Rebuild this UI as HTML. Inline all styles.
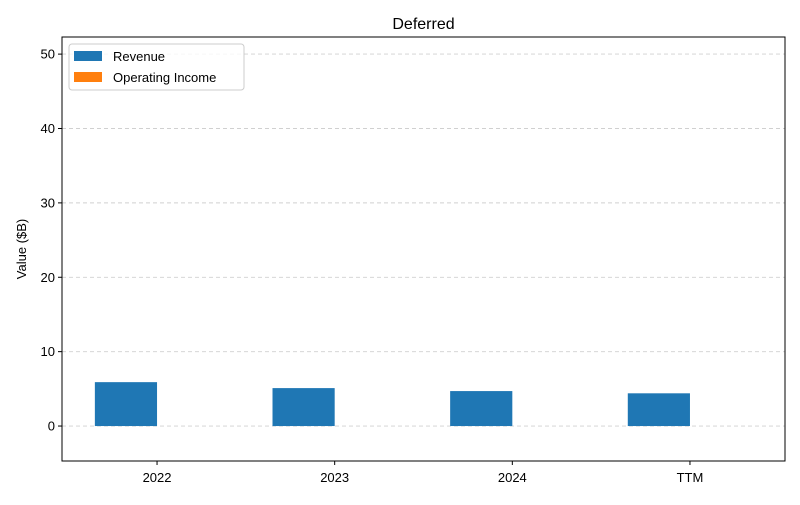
<!DOCTYPE html>
<html><head><meta charset="utf-8"><style>
body{margin:0;background:#fff;}
svg{font-family:"Liberation Sans","DejaVu Sans",sans-serif;}
</style></head><body>
<svg id="chart" width="800" height="500"></svg>
<script>
const categories=["2022","2023","2024","TTM"];
const revenue=[5.9,5.1,4.7,4.4];
const opIncome=[0,0,0,0];
const yTicks=[0,10,20,30,40,50];
const L=62,R=785,T=37,B=461;
const xMin=-0.535,xMax=3.535,yMin=-4.7,yMax=52.3;
const sx=v=>L+(v-xMin)/(xMax-xMin)*(R-L);
const sy=v=>B-(v-yMin)/(yMax-yMin)*(B-T);
const NS="http://www.w3.org/2000/svg";
const svg=document.getElementById('chart');
function mk(tag,attrs,parent){const e=document.createElementNS(NS,tag);for(const k in attrs)e.setAttribute(k,attrs[k]);(parent||svg).appendChild(e);return e;}
yTicks.forEach(v=>{
  const g=mk('line',{x1:L,x2:R,y1:sy(v),y2:sy(v),stroke:'#d0d0d0','stroke-dasharray':'4,3','stroke-width':0.9});
  
  
  const t=mk('line',{x1:L-4,x2:L,y1:sy(v),y2:sy(v),stroke:'#000'});
  
  
  const tx=mk('text',{x:L-7,y:sy(v)+4.5,'text-anchor':'end','font-size':13});
  tx.textContent=v;
  
  
});
const w=0.35;
categories.forEach((c,i)=>{
  const r=mk('rect',{x:sx(i-w),y:sy(Math.max(revenue[i],0)),width:sx(i)-sx(i-w),height:Math.abs(sy(revenue[i])-sy(0)),fill:'#1f77b4'});
  
  
  const o=mk('rect',{x:sx(i),y:sy(Math.max(opIncome[i],0)),width:sx(i+w)-sx(i),height:Math.abs(sy(opIncome[i])-sy(0)),fill:'#ff7f0e'});
  
  
  const t=mk('line',{x1:sx(i),x2:sx(i),y1:B,y2:B+4,stroke:'#000'});
  
  
  const tx=mk('text',{x:sx(i),y:B+21,'text-anchor':'middle','font-size':13});
  tx.textContent=c;
  
  
});
const frame=mk('rect',{x:L,y:T,width:R-L,height:B-T,fill:'none',stroke:'#000','stroke-width':1});


const title=mk('text',{x:(L+R)/2,y:29,'text-anchor':'middle','font-size':16});
title.textContent='Deferred';


const yl=mk('text',{x:26,y:(T+B)/2,'text-anchor':'middle','font-size':13,transform:`rotate(-90 26 ${(T+B)/2})`});
yl.textContent='Value ($B)';


const lg=mk('g',{});


mk('rect',{x:69,y:44,width:175,height:46,rx:3,fill:'#fff','fill-opacity':0.8,stroke:'#ccc'},lg);
[['Revenue','#1f77b4',56],['Operating Income','#ff7f0e',77]].forEach(([n,c,y])=>{
  const e=mk('g',{},lg);
  
  
  mk('rect',{x:74,y:y-5,width:28,height:10,fill:c},e);
  const t=mk('text',{x:113,y:y+5,'font-size':13},e);
  t.textContent=n;
});
</script>
</body></html>
